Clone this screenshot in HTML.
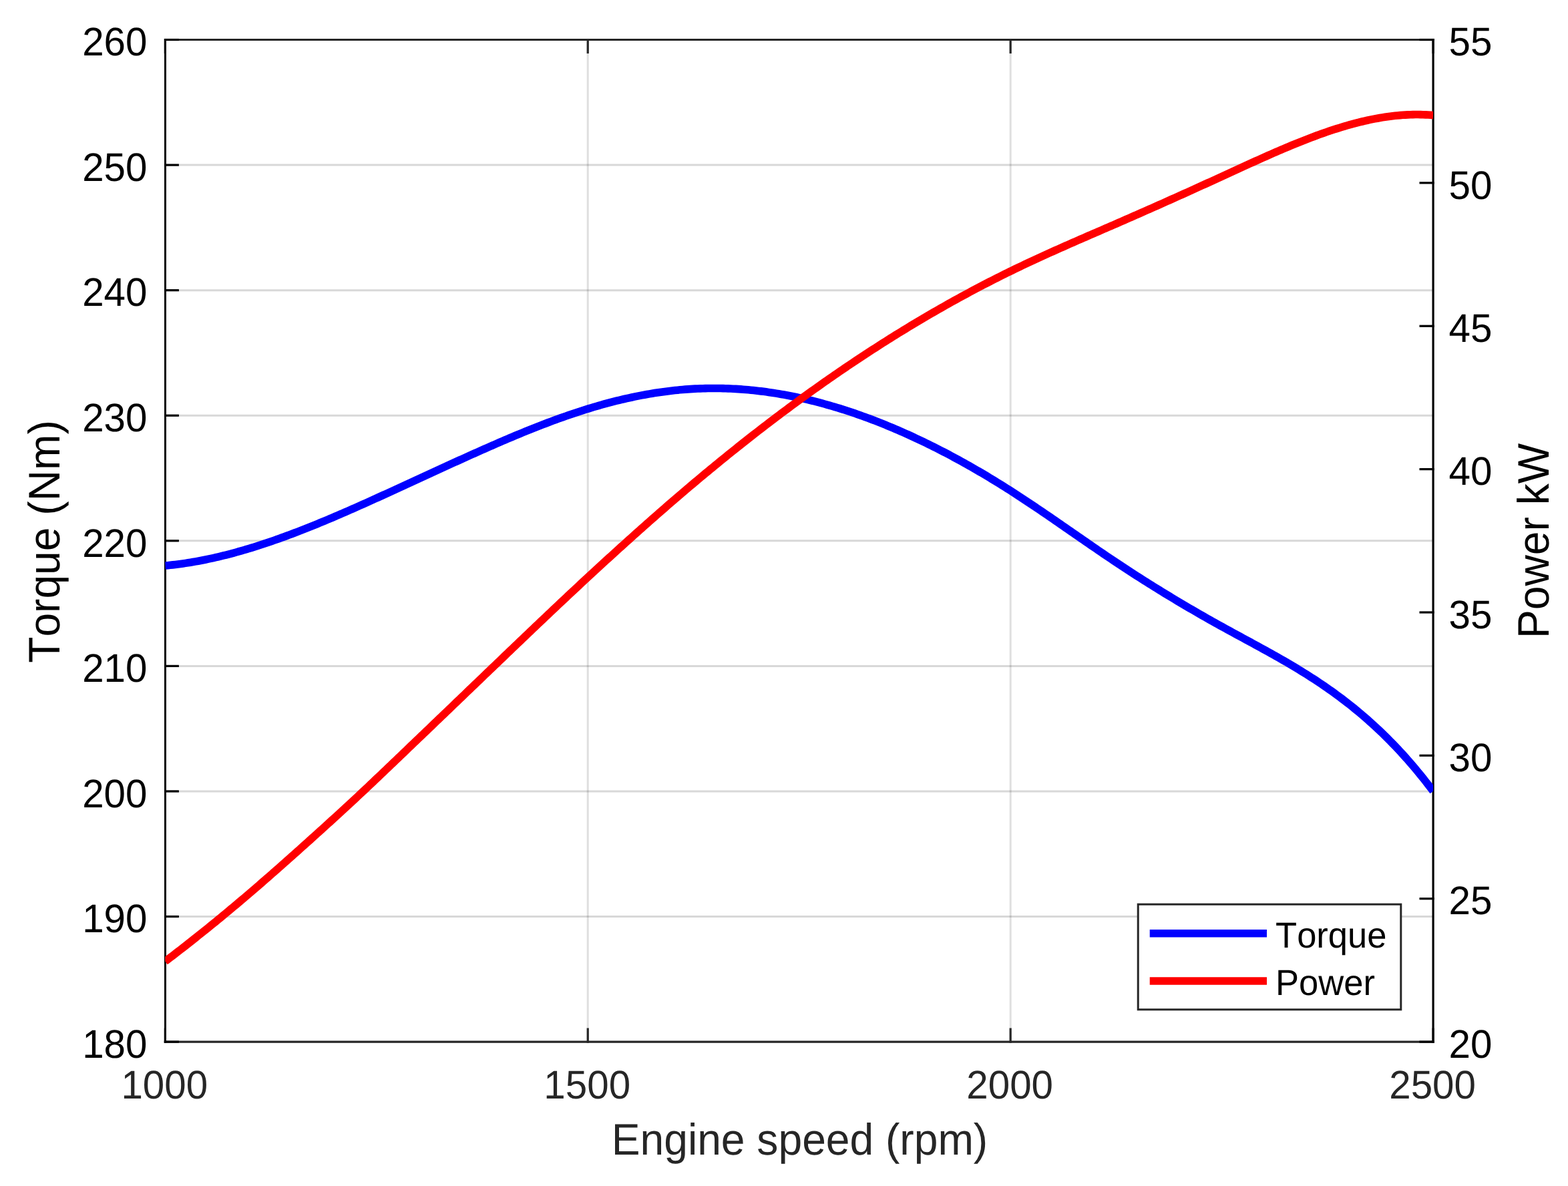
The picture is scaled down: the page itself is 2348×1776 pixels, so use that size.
<!DOCTYPE html>
<html lang="en"><head><meta charset="utf-8">
<style>html,body{margin:0;padding:0;background:#fff;overflow:hidden;}svg{display:block;}text{font-family:"Liberation Sans",sans-serif;font-kerning:none;font-feature-settings:"kern" 0,"liga" 0;text-rendering:geometricPrecision;}</style></head><body>
<svg width="2348" height="1776" viewBox="0 0 2348 1776">
<rect x="0" y="0" width="2348" height="1776" fill="#ffffff"/>
<g stroke="#262626" stroke-width="3.0" fill="none">
<line stroke-opacity="0.15" x1="880.23" y1="59.5" x2="880.23" y2="1560.1"/>
<line stroke-opacity="0.15" x1="1513.17" y1="59.5" x2="1513.17" y2="1560.1"/>
<line stroke-opacity="0.18" x1="247.3" y1="1372.52" x2="2146.1" y2="1372.52"/>
<line stroke-opacity="0.18" x1="247.3" y1="1184.95" x2="2146.1" y2="1184.95"/>
<line stroke-opacity="0.18" x1="247.3" y1="997.38" x2="2146.1" y2="997.38"/>
<line stroke-opacity="0.18" x1="247.3" y1="809.80" x2="2146.1" y2="809.80"/>
<line stroke-opacity="0.18" x1="247.3" y1="622.22" x2="2146.1" y2="622.22"/>
<line stroke-opacity="0.18" x1="247.3" y1="434.65" x2="2146.1" y2="434.65"/>
<line stroke-opacity="0.18" x1="247.3" y1="247.08" x2="2146.1" y2="247.08"/>
</g>
<g stroke="#262626" stroke-width="3.2" fill="none" stroke-linecap="butt">
<line x1="245.70" y1="1560.1" x2="2147.7" y2="1560.1"/>
<line x1="246.0" y1="59.5" x2="2147.7" y2="59.5" stroke-width="3.0"/>
<line x1="247.30" y1="1561.70" x2="247.30" y2="1539.5"/>
<line x1="247.30" y1="58.0" x2="247.30" y2="80.1"/>
<line x1="880.23" y1="1561.70" x2="880.23" y2="1539.5"/>
<line x1="880.23" y1="58.0" x2="880.23" y2="80.1"/>
<line x1="1513.17" y1="1561.70" x2="1513.17" y2="1539.5"/>
<line x1="1513.17" y1="58.0" x2="1513.17" y2="80.1"/>
<line x1="2146.10" y1="1561.70" x2="2146.10" y2="1539.5"/>
<line x1="2146.10" y1="58.0" x2="2146.10" y2="80.1"/>
</g>
<g stroke="#000000" stroke-width="3.2" fill="none" stroke-linecap="butt">
<line x1="247.5" y1="58.0" x2="247.5" y2="1561.70" stroke-width="3.0"/>
<line x1="2146.1" y1="57.9" x2="2146.1" y2="1561.70"/>
<line x1="246.0" y1="1560.10" x2="267.90" y2="1560.10"/>
<line x1="246.0" y1="1372.52" x2="267.90" y2="1372.52"/>
<line x1="246.0" y1="1184.95" x2="267.90" y2="1184.95"/>
<line x1="246.0" y1="997.38" x2="267.90" y2="997.38"/>
<line x1="246.0" y1="809.80" x2="267.90" y2="809.80"/>
<line x1="246.0" y1="622.22" x2="267.90" y2="622.22"/>
<line x1="246.0" y1="434.65" x2="267.90" y2="434.65"/>
<line x1="246.0" y1="247.08" x2="267.90" y2="247.08"/>
<line x1="246.0" y1="59.50" x2="267.90" y2="59.50"/>
<line x1="2147.7" y1="1560.10" x2="2125.5" y2="1560.10"/>
<line x1="2147.7" y1="1345.73" x2="2125.5" y2="1345.73"/>
<line x1="2147.7" y1="1131.36" x2="2125.5" y2="1131.36"/>
<line x1="2147.7" y1="916.99" x2="2125.5" y2="916.99"/>
<line x1="2147.7" y1="702.61" x2="2125.5" y2="702.61"/>
<line x1="2147.7" y1="488.24" x2="2125.5" y2="488.24"/>
<line x1="2147.7" y1="273.87" x2="2125.5" y2="273.87"/>
<line x1="2147.7" y1="59.50" x2="2125.5" y2="59.50"/>
</g>
<clipPath id="ax"><rect x="247.3" y="59.5" width="1898.8" height="1500.6"/></clipPath>
<g fill="none" stroke-width="11.6" stroke-linejoin="round" stroke-linecap="butt" clip-path="url(#ax)">
<path stroke="#0000ff" d="M247.30,847.03 L251.10,846.68 L254.90,846.29 L258.69,845.87 L262.49,845.43 L266.29,844.96 L270.09,844.46 L273.88,843.93 L277.68,843.37 L281.48,842.79 L285.28,842.18 L289.07,841.54 L292.87,840.88 L296.67,840.19 L300.47,839.48 L304.26,838.74 L308.06,837.98 L311.86,837.19 L315.66,836.38 L319.45,835.54 L323.25,834.68 L327.05,833.80 L330.85,832.90 L334.64,831.97 L338.44,831.02 L342.24,830.04 L346.04,829.05 L349.84,828.03 L353.63,827.00 L357.43,825.94 L361.23,824.86 L365.03,823.76 L368.82,822.64 L372.62,821.50 L376.42,820.35 L380.22,819.17 L384.01,817.98 L387.81,816.76 L391.61,815.53 L395.41,814.28 L399.20,813.02 L403.00,811.73 L406.80,810.43 L410.60,809.12 L414.39,807.78 L418.19,806.44 L421.99,805.07 L425.79,803.69 L429.58,802.30 L433.38,800.89 L437.18,799.47 L440.98,798.03 L444.78,796.58 L448.57,795.12 L452.37,793.64 L456.17,792.15 L459.97,790.65 L463.76,789.14 L467.56,787.61 L471.36,786.08 L475.16,784.53 L478.95,782.97 L482.75,781.40 L486.55,779.82 L490.35,778.23 L494.14,776.63 L497.94,775.03 L501.74,773.41 L505.54,771.78 L509.33,770.15 L513.13,768.51 L516.93,766.86 L520.73,765.20 L524.52,763.54 L528.32,761.87 L532.12,760.19 L535.92,758.50 L539.72,756.82 L543.51,755.12 L547.31,753.42 L551.11,751.72 L554.91,750.01 L558.70,748.29 L562.50,746.58 L566.30,744.85 L570.10,743.13 L573.89,741.40 L577.69,739.67 L581.49,737.94 L585.29,736.20 L589.08,734.46 L592.88,732.72 L596.68,730.98 L600.48,729.24 L604.27,727.49 L608.07,725.74 L611.87,724.00 L615.67,722.25 L619.46,720.50 L623.26,718.75 L627.06,717.00 L630.86,715.25 L634.66,713.50 L638.45,711.75 L642.25,710.00 L646.05,708.25 L649.85,706.51 L653.64,704.76 L657.44,703.02 L661.24,701.27 L665.04,699.53 L668.83,697.79 L672.63,696.06 L676.43,694.32 L680.23,692.59 L684.02,690.87 L687.82,689.14 L691.62,687.42 L695.42,685.70 L699.21,683.99 L703.01,682.28 L706.81,680.57 L710.61,678.87 L714.40,677.17 L718.20,675.48 L722.00,673.79 L725.80,672.11 L729.60,670.44 L733.39,668.77 L737.19,667.10 L740.99,665.45 L744.79,663.80 L748.58,662.15 L752.38,660.52 L756.18,658.89 L759.98,657.27 L763.77,655.66 L767.57,654.06 L771.37,652.47 L775.17,650.89 L778.96,649.31 L782.76,647.75 L786.56,646.20 L790.36,644.66 L794.15,643.13 L797.95,641.61 L801.75,640.11 L805.55,638.61 L809.34,637.13 L813.14,635.66 L816.94,634.21 L820.74,632.77 L824.54,631.34 L828.33,629.93 L832.13,628.53 L835.93,627.15 L839.73,625.78 L843.52,624.43 L847.32,623.10 L851.12,621.78 L854.92,620.48 L858.71,619.19 L862.51,617.92 L866.31,616.67 L870.11,615.44 L873.90,614.23 L877.70,613.03 L881.50,611.86 L885.30,610.70 L889.09,609.56 L892.89,608.44 L896.69,607.35 L900.49,606.27 L904.28,605.21 L908.08,604.17 L911.88,603.16 L915.68,602.16 L919.48,601.19 L923.27,600.24 L927.07,599.30 L930.87,598.39 L934.67,597.50 L938.46,596.64 L942.26,595.79 L946.06,594.97 L949.86,594.17 L953.65,593.39 L957.45,592.64 L961.25,591.90 L965.05,591.20 L968.84,590.51 L972.64,589.85 L976.44,589.21 L980.24,588.60 L984.03,588.01 L987.83,587.44 L991.63,586.90 L995.43,586.38 L999.22,585.89 L1003.02,585.42 L1006.82,584.98 L1010.62,584.56 L1014.42,584.17 L1018.21,583.81 L1022.01,583.47 L1025.81,583.15 L1029.61,582.86 L1033.40,582.60 L1037.20,582.37 L1041.00,582.16 L1044.80,581.98 L1048.59,581.83 L1052.39,581.70 L1056.19,581.60 L1059.99,581.52 L1063.78,581.47 L1067.58,581.45 L1071.38,581.45 L1075.18,581.48 L1078.97,581.54 L1082.77,581.62 L1086.57,581.73 L1090.37,581.86 L1094.16,582.02 L1097.96,582.20 L1101.76,582.41 L1105.56,582.65 L1109.36,582.91 L1113.15,583.19 L1116.95,583.50 L1120.75,583.84 L1124.55,584.20 L1128.34,584.58 L1132.14,584.99 L1135.94,585.42 L1139.74,585.88 L1143.53,586.36 L1147.33,586.87 L1151.13,587.40 L1154.93,587.95 L1158.72,588.53 L1162.52,589.13 L1166.32,589.76 L1170.12,590.41 L1173.91,591.08 L1177.71,591.78 L1181.51,592.50 L1185.31,593.24 L1189.10,594.01 L1192.90,594.80 L1196.70,595.61 L1200.50,596.44 L1204.30,597.30 L1208.09,598.18 L1211.89,599.09 L1215.69,600.01 L1219.49,600.96 L1223.28,601.93 L1227.08,602.92 L1230.88,603.94 L1234.68,604.98 L1238.47,606.04 L1242.27,607.12 L1246.07,608.22 L1249.87,609.34 L1253.66,610.49 L1257.46,611.66 L1261.26,612.84 L1265.06,614.05 L1268.85,615.28 L1272.65,616.54 L1276.45,617.81 L1280.25,619.10 L1284.04,620.42 L1287.84,621.75 L1291.64,623.11 L1295.44,624.48 L1299.24,625.88 L1303.03,627.30 L1306.83,628.73 L1310.63,630.19 L1314.43,631.67 L1318.22,633.16 L1322.02,634.68 L1325.82,636.21 L1329.62,637.77 L1333.41,639.34 L1337.21,640.94 L1341.01,642.55 L1344.81,644.18 L1348.60,645.83 L1352.40,647.50 L1356.20,649.19 L1360.00,650.90 L1363.79,652.63 L1367.59,654.37 L1371.39,656.14 L1375.19,657.92 L1378.98,659.72 L1382.78,661.54 L1386.58,663.38 L1390.38,665.23 L1394.18,667.11 L1397.97,669.00 L1401.77,670.91 L1405.57,672.84 L1409.37,674.79 L1413.16,676.75 L1416.96,678.73 L1420.76,680.73 L1424.56,682.75 L1428.35,684.79 L1432.15,686.84 L1435.95,688.91 L1439.75,691.00 L1443.54,693.11 L1447.34,695.24 L1451.14,697.38 L1454.94,699.54 L1458.73,701.71 L1462.53,703.91 L1466.33,706.12 L1470.13,708.35 L1473.92,710.59 L1477.72,712.85 L1481.52,715.13 L1485.32,717.43 L1489.12,719.74 L1492.91,722.07 L1496.71,724.42 L1500.51,726.78 L1504.31,729.16 L1508.10,731.56 L1511.90,733.97 L1515.70,736.40 L1519.50,738.85 L1523.29,741.31 L1527.09,743.79 L1530.89,746.28 L1534.69,748.78 L1538.48,751.30 L1542.28,753.83 L1546.08,756.37 L1549.88,758.92 L1553.67,761.48 L1557.47,764.05 L1561.27,766.63 L1565.07,769.21 L1568.86,771.81 L1572.66,774.41 L1576.46,777.01 L1580.26,779.62 L1584.06,782.24 L1587.85,784.86 L1591.65,787.48 L1595.45,790.11 L1599.25,792.74 L1603.04,795.37 L1606.84,798.00 L1610.64,800.63 L1614.44,803.25 L1618.23,805.88 L1622.03,808.51 L1625.83,811.13 L1629.63,813.75 L1633.42,816.36 L1637.22,818.97 L1641.02,821.58 L1644.82,824.18 L1648.61,826.77 L1652.41,829.35 L1656.21,831.93 L1660.01,834.49 L1663.80,837.05 L1667.60,839.60 L1671.40,842.13 L1675.20,844.66 L1679.00,847.17 L1682.79,849.67 L1686.59,852.16 L1690.39,854.64 L1694.19,857.11 L1697.98,859.57 L1701.78,862.01 L1705.58,864.45 L1709.38,866.87 L1713.17,869.28 L1716.97,871.68 L1720.77,874.07 L1724.57,876.45 L1728.36,878.82 L1732.16,881.18 L1735.96,883.53 L1739.76,885.86 L1743.55,888.19 L1747.35,890.51 L1751.15,892.81 L1754.95,895.11 L1758.74,897.39 L1762.54,899.67 L1766.34,901.93 L1770.14,904.18 L1773.94,906.43 L1777.73,908.66 L1781.53,910.89 L1785.33,913.10 L1789.13,915.31 L1792.92,917.50 L1796.72,919.68 L1800.52,921.86 L1804.32,924.03 L1808.11,926.18 L1811.91,928.33 L1815.71,930.46 L1819.51,932.59 L1823.30,934.71 L1827.10,936.82 L1830.90,938.92 L1834.70,941.01 L1838.49,943.09 L1842.29,945.17 L1846.09,947.24 L1849.89,949.31 L1853.68,951.37 L1857.48,953.43 L1861.28,955.49 L1865.08,957.55 L1868.88,959.61 L1872.67,961.67 L1876.47,963.74 L1880.27,965.80 L1884.07,967.88 L1887.86,969.96 L1891.66,972.05 L1895.46,974.14 L1899.26,976.25 L1903.05,978.36 L1906.85,980.49 L1910.65,982.63 L1914.45,984.78 L1918.24,986.95 L1922.04,989.14 L1925.84,991.34 L1929.64,993.56 L1933.43,995.80 L1937.23,998.06 L1941.03,1000.34 L1944.83,1002.64 L1948.62,1004.96 L1952.42,1007.31 L1956.22,1009.69 L1960.02,1012.09 L1963.82,1014.52 L1967.61,1016.98 L1971.41,1019.47 L1975.21,1021.99 L1979.01,1024.54 L1982.80,1027.13 L1986.60,1029.75 L1990.40,1032.40 L1994.20,1035.09 L1997.99,1037.82 L2001.79,1040.59 L2005.59,1043.39 L2009.39,1046.24 L2013.18,1049.13 L2016.98,1052.06 L2020.78,1055.03 L2024.58,1058.05 L2028.37,1061.12 L2032.17,1064.23 L2035.97,1067.39 L2039.77,1070.60 L2043.56,1073.86 L2047.36,1077.17 L2051.16,1080.54 L2054.96,1083.96 L2058.76,1087.43 L2062.55,1090.96 L2066.35,1094.54 L2070.15,1098.18 L2073.95,1101.89 L2077.74,1105.65 L2081.54,1109.47 L2085.34,1113.35 L2089.14,1117.30 L2092.93,1121.31 L2096.73,1125.39 L2100.53,1129.53 L2104.33,1133.74 L2108.12,1138.02 L2111.92,1142.37 L2115.72,1146.79 L2119.52,1151.29 L2123.31,1155.85 L2127.11,1160.49 L2130.91,1165.20 L2134.71,1169.99 L2138.50,1174.86 L2142.30,1179.80 L2146.10,1184.83"/>
<path stroke="#ff0000" d="M247.30,1439.75 L251.10,1436.86 L254.90,1433.96 L258.69,1431.05 L262.49,1428.13 L266.29,1425.20 L270.09,1422.25 L273.88,1419.30 L277.68,1416.33 L281.48,1413.36 L285.28,1410.37 L289.07,1407.36 L292.87,1404.35 L296.67,1401.33 L300.47,1398.31 L304.26,1395.27 L308.06,1392.22 L311.86,1389.17 L315.66,1386.10 L319.45,1383.02 L323.25,1379.92 L327.05,1376.81 L330.85,1373.69 L334.64,1370.55 L338.44,1367.39 L342.24,1364.23 L346.04,1361.06 L349.84,1357.87 L353.63,1354.69 L357.43,1351.49 L361.23,1348.28 L365.03,1345.06 L368.82,1341.84 L372.62,1338.60 L376.42,1335.35 L380.22,1332.09 L384.01,1328.82 L387.81,1325.54 L391.61,1322.25 L395.41,1318.95 L399.20,1315.64 L403.00,1312.33 L406.80,1309.00 L410.60,1305.67 L414.39,1302.33 L418.19,1298.98 L421.99,1295.62 L425.79,1292.26 L429.58,1288.89 L433.38,1285.51 L437.18,1282.13 L440.98,1278.75 L444.78,1275.35 L448.57,1271.96 L452.37,1268.55 L456.17,1265.15 L459.97,1261.74 L463.76,1258.32 L467.56,1254.90 L471.36,1251.48 L475.16,1248.05 L478.95,1244.62 L482.75,1241.18 L486.55,1237.74 L490.35,1234.29 L494.14,1230.84 L497.94,1227.38 L501.74,1223.91 L505.54,1220.44 L509.33,1216.96 L513.13,1213.48 L516.93,1209.99 L520.73,1206.49 L524.52,1202.98 L528.32,1199.46 L532.12,1195.93 L535.92,1192.38 L539.72,1188.82 L543.51,1185.25 L547.31,1181.68 L551.11,1178.10 L554.91,1174.51 L558.70,1170.92 L562.50,1167.32 L566.30,1163.73 L570.10,1160.13 L573.89,1156.52 L577.69,1152.91 L581.49,1149.29 L585.29,1145.66 L589.08,1142.03 L592.88,1138.39 L596.68,1134.75 L600.48,1131.11 L604.27,1127.47 L608.07,1123.82 L611.87,1120.18 L615.67,1116.54 L619.46,1112.90 L623.26,1109.27 L627.06,1105.63 L630.86,1102.00 L634.66,1098.36 L638.45,1094.72 L642.25,1091.08 L646.05,1087.44 L649.85,1083.80 L653.64,1080.16 L657.44,1076.52 L661.24,1072.88 L665.04,1069.24 L668.83,1065.60 L672.63,1061.96 L676.43,1058.31 L680.23,1054.67 L684.02,1051.03 L687.82,1047.38 L691.62,1043.73 L695.42,1040.09 L699.21,1036.44 L703.01,1032.79 L706.81,1029.15 L710.61,1025.50 L714.40,1021.85 L718.20,1018.21 L722.00,1014.56 L725.80,1010.92 L729.60,1007.28 L733.39,1003.64 L737.19,1000.00 L740.99,996.36 L744.79,992.72 L748.58,989.09 L752.38,985.45 L756.18,981.81 L759.98,978.18 L763.77,974.54 L767.57,970.91 L771.37,967.28 L775.17,963.65 L778.96,960.02 L782.76,956.39 L786.56,952.76 L790.36,949.14 L794.15,945.52 L797.95,941.90 L801.75,938.28 L805.55,934.67 L809.34,931.06 L813.14,927.45 L816.94,923.85 L820.74,920.25 L824.54,916.65 L828.33,913.06 L832.13,909.47 L835.93,905.89 L839.73,902.31 L843.52,898.74 L847.32,895.17 L851.12,891.60 L854.92,888.04 L858.71,884.49 L862.51,880.94 L866.31,877.40 L870.11,873.87 L873.90,870.34 L877.70,866.81 L881.50,863.30 L885.30,859.78 L889.09,856.28 L892.89,852.78 L896.69,849.29 L900.49,845.80 L904.28,842.32 L908.08,838.84 L911.88,835.38 L915.68,831.91 L919.48,828.46 L923.27,825.01 L927.07,821.57 L930.87,818.13 L934.67,814.70 L938.46,811.28 L942.26,807.86 L946.06,804.45 L949.86,801.04 L953.65,797.65 L957.45,794.26 L961.25,790.87 L965.05,787.50 L968.84,784.13 L972.64,780.77 L976.44,777.42 L980.24,774.07 L984.03,770.74 L987.83,767.41 L991.63,764.09 L995.43,760.78 L999.22,757.48 L1003.02,754.19 L1006.82,750.91 L1010.62,747.64 L1014.42,744.37 L1018.21,741.12 L1022.01,737.87 L1025.81,734.63 L1029.61,731.40 L1033.40,728.19 L1037.20,724.98 L1041.00,721.78 L1044.80,718.59 L1048.59,715.41 L1052.39,712.24 L1056.19,709.09 L1059.99,705.94 L1063.78,702.80 L1067.58,699.67 L1071.38,696.55 L1075.18,693.44 L1078.97,690.34 L1082.77,687.24 L1086.57,684.16 L1090.37,681.09 L1094.16,678.03 L1097.96,674.98 L1101.76,671.93 L1105.56,668.90 L1109.36,665.88 L1113.15,662.87 L1116.95,659.87 L1120.75,656.88 L1124.55,653.90 L1128.34,650.93 L1132.14,647.97 L1135.94,645.02 L1139.74,642.08 L1143.53,639.16 L1147.33,636.24 L1151.13,633.33 L1154.93,630.44 L1158.72,627.55 L1162.52,624.68 L1166.32,621.82 L1170.12,618.97 L1173.91,616.12 L1177.71,613.29 L1181.51,610.47 L1185.31,607.66 L1189.10,604.86 L1192.90,602.08 L1196.70,599.30 L1200.50,596.53 L1204.30,593.78 L1208.09,591.03 L1211.89,588.30 L1215.69,585.57 L1219.49,582.86 L1223.28,580.16 L1227.08,577.47 L1230.88,574.79 L1234.68,572.12 L1238.47,569.46 L1242.27,566.81 L1246.07,564.18 L1249.87,561.55 L1253.66,558.94 L1257.46,556.33 L1261.26,553.74 L1265.06,551.16 L1268.85,548.58 L1272.65,546.02 L1276.45,543.47 L1280.25,540.94 L1284.04,538.41 L1287.84,535.89 L1291.64,533.38 L1295.44,530.89 L1299.24,528.40 L1303.03,525.93 L1306.83,523.47 L1310.63,521.02 L1314.43,518.58 L1318.22,516.15 L1322.02,513.73 L1325.82,511.32 L1329.62,508.92 L1333.41,506.53 L1337.21,504.16 L1341.01,501.79 L1344.81,499.44 L1348.60,497.10 L1352.40,494.76 L1356.20,492.44 L1360.00,490.13 L1363.79,487.83 L1367.59,485.54 L1371.39,483.27 L1375.19,481.00 L1378.98,478.74 L1382.78,476.50 L1386.58,474.27 L1390.38,472.04 L1394.18,469.83 L1397.97,467.63 L1401.77,465.44 L1405.57,463.26 L1409.37,461.09 L1413.16,458.94 L1416.96,456.79 L1420.76,454.66 L1424.56,452.53 L1428.35,450.42 L1432.15,448.32 L1435.95,446.23 L1439.75,444.15 L1443.54,442.08 L1447.34,440.03 L1451.14,437.98 L1454.94,435.95 L1458.73,433.92 L1462.53,431.91 L1466.33,429.91 L1470.13,427.92 L1473.92,425.94 L1477.72,423.98 L1481.52,422.02 L1485.32,420.08 L1489.12,418.15 L1492.91,416.22 L1496.71,414.31 L1500.51,412.42 L1504.31,410.53 L1508.10,408.65 L1511.90,406.79 L1515.70,404.93 L1519.50,403.09 L1523.29,401.26 L1527.09,399.44 L1530.89,397.63 L1534.69,395.83 L1538.48,394.04 L1542.28,392.26 L1546.08,390.49 L1549.88,388.72 L1553.67,386.97 L1557.47,385.22 L1561.27,383.48 L1565.07,381.75 L1568.86,380.03 L1572.66,378.31 L1576.46,376.60 L1580.26,374.90 L1584.06,373.20 L1587.85,371.51 L1591.65,369.83 L1595.45,368.14 L1599.25,366.47 L1603.04,364.80 L1606.84,363.13 L1610.64,361.46 L1614.44,359.80 L1618.23,358.14 L1622.03,356.49 L1625.83,354.84 L1629.63,353.18 L1633.42,351.53 L1637.22,349.89 L1641.02,348.24 L1644.82,346.59 L1648.61,344.95 L1652.41,343.30 L1656.21,341.66 L1660.01,340.01 L1663.80,338.36 L1667.60,336.71 L1671.40,335.06 L1675.20,333.40 L1679.00,331.75 L1682.79,330.09 L1686.59,328.43 L1690.39,326.76 L1694.19,325.10 L1697.98,323.43 L1701.78,321.76 L1705.58,320.09 L1709.38,318.42 L1713.17,316.74 L1716.97,315.06 L1720.77,313.38 L1724.57,311.70 L1728.36,310.01 L1732.16,308.33 L1735.96,306.64 L1739.76,304.95 L1743.55,303.25 L1747.35,301.56 L1751.15,299.86 L1754.95,298.16 L1758.74,296.46 L1762.54,294.75 L1766.34,293.04 L1770.14,291.34 L1773.94,289.63 L1777.73,287.91 L1781.53,286.20 L1785.33,284.48 L1789.13,282.76 L1792.92,281.04 L1796.72,279.32 L1800.52,277.59 L1804.32,275.87 L1808.11,274.14 L1811.91,272.41 L1815.71,270.67 L1819.51,268.94 L1823.30,267.20 L1827.10,265.46 L1830.90,263.72 L1834.70,261.98 L1838.49,260.24 L1842.29,258.49 L1846.09,256.75 L1849.89,255.01 L1853.68,253.26 L1857.48,251.52 L1861.28,249.78 L1865.08,248.05 L1868.88,246.31 L1872.67,244.59 L1876.47,242.86 L1880.27,241.14 L1884.07,239.43 L1887.86,237.72 L1891.66,236.02 L1895.46,234.33 L1899.26,232.65 L1903.05,230.97 L1906.85,229.31 L1910.65,227.65 L1914.45,226.01 L1918.24,224.37 L1922.04,222.75 L1925.84,221.14 L1929.64,219.55 L1933.43,217.97 L1937.23,216.40 L1941.03,214.85 L1944.83,213.31 L1948.62,211.79 L1952.42,210.29 L1956.22,208.80 L1960.02,207.34 L1963.82,205.89 L1967.61,204.46 L1971.41,203.05 L1975.21,201.67 L1979.01,200.30 L1982.80,198.96 L1986.60,197.64 L1990.40,196.35 L1994.20,195.08 L1997.99,193.83 L2001.79,192.61 L2005.59,191.42 L2009.39,190.25 L2013.18,189.12 L2016.98,188.01 L2020.78,186.93 L2024.58,185.88 L2028.37,184.86 L2032.17,183.87 L2035.97,182.92 L2039.77,182.00 L2043.56,181.11 L2047.36,180.25 L2051.16,179.43 L2054.96,178.65 L2058.76,177.91 L2062.55,177.20 L2066.35,176.53 L2070.15,175.90 L2073.95,175.30 L2077.74,174.75 L2081.54,174.24 L2085.34,173.77 L2089.14,173.35 L2092.93,172.97 L2096.73,172.63 L2100.53,172.34 L2104.33,172.09 L2108.12,171.89 L2111.92,171.74 L2115.72,171.63 L2119.52,171.57 L2123.31,171.57 L2127.11,171.61 L2130.91,171.71 L2134.71,171.86 L2138.50,172.06 L2142.30,172.31 L2146.10,172.62"/>
</g>
<g font-size="58.33px" fill="#000000">
<g text-anchor="end">
<text transform="translate(220.5,1583.80) scale(1,1.025)">180</text>
<text transform="translate(220.5,1396.22) scale(1,1.025)">190</text>
<text transform="translate(220.5,1208.65) scale(1,1.025)">200</text>
<text transform="translate(220.5,1021.08) scale(1,1.025)">210</text>
<text transform="translate(220.5,833.50) scale(1,1.025)">220</text>
<text transform="translate(220.5,645.92) scale(1,1.025)">230</text>
<text transform="translate(220.5,458.35) scale(1,1.025)">240</text>
<text transform="translate(220.5,270.78) scale(1,1.025)">250</text>
<text transform="translate(220.5,83.20) scale(1,1.025)">260</text>
</g><g text-anchor="start">
<text transform="translate(2169.6,1583.80) scale(1,1.025)">20</text>
<text transform="translate(2169.6,1369.43) scale(1,1.025)">25</text>
<text transform="translate(2169.6,1155.06) scale(1,1.025)">30</text>
<text transform="translate(2169.6,940.69) scale(1,1.025)">35</text>
<text transform="translate(2169.6,726.31) scale(1,1.025)">40</text>
<text transform="translate(2169.6,511.94) scale(1,1.025)">45</text>
<text transform="translate(2169.6,297.57) scale(1,1.025)">50</text>
<text transform="translate(2169.6,83.20) scale(1,1.025)">55</text>
</g></g>
<g font-size="58.33px" fill="#262626" text-anchor="middle">
<text transform="translate(246.30,1644.6) scale(1,1.025)">1000</text>
<text transform="translate(879.23,1644.6) scale(1,1.025)">1500</text>
<text transform="translate(1512.17,1644.6) scale(1,1.025)">2000</text>
<text transform="translate(2145.10,1644.6) scale(1,1.025)">2500</text>
</g>
<g font-size="64.17px" text-anchor="middle">
<text fill="#262626" transform="translate(1197.5,1729.3) scale(1,1.03)">Engine speed (rpm)</text>
<text fill="#000000" transform="translate(89.0,811.0) rotate(-90) scale(1,1.03)">Torque (Nm)</text>
<text fill="#000000" transform="translate(2319.4,809.8) rotate(-90) scale(1,1.03)">Power kW</text>
</g>
<rect x="1704.2" y="1354.2" width="393.60" height="157.60" fill="#ffffff" stroke="#262626" stroke-width="3.0"/>
<g fill="none" stroke-width="11.6" stroke-linecap="butt">
<line stroke="#0000ff" x1="1721.7" y1="1397.8" x2="1897.0" y2="1397.8"/>
<line stroke="#ff0000" x1="1721.7" y1="1469.0" x2="1897.0" y2="1469.0"/>
</g>
<g font-size="52.5px" fill="#000000" text-anchor="start">
<text transform="translate(1910.1,1419.1) scale(1,1.03)">Torque</text>
<text transform="translate(1910.1,1490.4) scale(1,1.03)">Power</text>
</g>
</svg></body></html>
